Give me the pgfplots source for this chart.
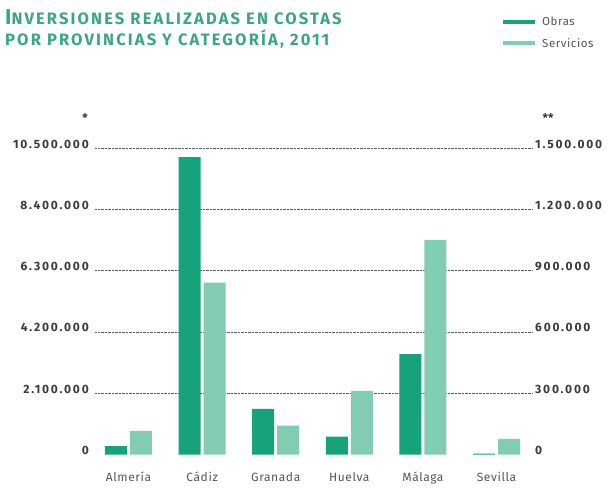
\documentclass[border=0pt]{standalone}
\usepackage{pgfplots}
\pgfplotsset{compat=1.18}
\usepackage{fontspec}
\setmainfont{Fira Sans}
\newfontfamily\titlefont{Fira Sans}[LetterSpace=13]
\newfontfamily\tickfont{Fira Sans}[LetterSpace=15]
\newfontfamily\catfont{Fira Sans}[LetterSpace=5]
\definecolor{obras}{HTML}{16A27A}
\definecolor{servicios}{HTML}{82CDB1}
\definecolor{titlecol}{HTML}{3AA685}
\definecolor{txt}{HTML}{3A3A3A}
\definecolor{cattxt}{HTML}{555555}
\pgfplotstableread{
x obras
0 290000
1 10190000
2 1560000
3 610000
4 3440000
5 30000
}\obrastable
\pgfplotstableread{
x serv
0 116000
1 841000
2 141000
3 311000
4 1050000
5 76000
}\servtable
\begin{document}
\begin{tikzpicture}
\path (0pt,0pt) rectangle (609pt,488pt);
\pgfplotsset{
  common/.style={
    at={(95pt,33.5pt)}, anchor=south west,
    scale only axis, width=437pt, height=306.5pt,
    xmin=-0.455, xmax=5.482, ymin=0,
    axis line style={draw=none},
    major tick length=0pt,
    clip=false,
  }
}
\begin{axis}[common,
  ymax=10500000,
  ytick={2100000,4200000,6300000,8400000,10500000},
  yticklabels={2.100.000,4.200.000,6.300.000,8.400.000,10.500.000},
  extra y ticks={0}, extra y tick labels={0},
  extra y tick style={grid=none},
  ymajorgrids,
  grid style={densely dotted, color=black!65, line width=0.5pt},
  yticklabel style={anchor=east, xshift=-6pt, yshift=4pt, inner sep=0pt, font=\tickfont\bfseries\fontsize{12}{14}\selectfont, text=txt},
  xtick={0,1,2,3,4,5},
  xticklabels={Almería,Cádiz,Granada,Huelva,Málaga,Sevilla},
  xticklabel style={anchor=base, yshift=-27pt, inner sep=0pt, font=\catfont\fontsize{12}{14}\selectfont, text=cattxt},
  scaled y ticks=false,
]
\addplot[ybar, bar width=22pt, bar shift=-12.5pt, fill=obras, draw=none] table[x=x, y=obras] {\obrastable};
\end{axis}
\begin{axis}[common,
  ymax=1500000,
  ytick={0,300000,600000,900000,1200000,1500000},
  yticklabels={0,300.000,600.000,900.000,1.200.000,1.500.000},
  yticklabel pos=right,
  yticklabel style={anchor=west, xshift=3pt, yshift=4pt, inner sep=0pt, font=\tickfont\bfseries\fontsize{12}{14}\selectfont, text=txt},
  xtick=\empty,
  scaled y ticks=false,
]
\addplot[ybar, bar width=22pt, bar shift=12.5pt, fill=servicios, draw=none] table[x=x, y=serv] {\servtable};
\end{axis}
% title
\node[anchor=base west, inner sep=0pt, text=titlecol] at (5pt,463pt) {\titlefont\bfseries\fontsize{21.5}{23}\selectfont I\fontsize{16.5}{18}\selectfont NVERSIONES REALIZADAS EN COSTAS};
\node[anchor=base west, inner sep=0pt, text=titlecol] at (5pt,442pt) {\titlefont\bfseries\fontsize{16.5}{18}\selectfont POR PROVINCIAS Y CATEGORÍA, 2011};
% asterisks
\node[inner sep=0pt, text=txt] at (85pt,370pt) {\bfseries\fontsize{12}{14}\selectfont *};
\node[inner sep=0pt, text=txt] at (548pt,370pt) {\bfseries\fontsize{12}{14}\selectfont **};
% legend
\fill[obras] (503pt,464pt) rectangle (535pt,468pt);
\node[anchor=west, inner sep=0pt, text=cattxt] at (542pt,467pt) {\catfont\fontsize{11.5}{13}\selectfont Obras};
\fill[servicios] (503pt,443pt) rectangle (535pt,447pt);
\node[anchor=west, inner sep=0pt, text=cattxt] at (542pt,445pt) {\catfont\fontsize{11.5}{13}\selectfont Servicios};
\end{tikzpicture}
\end{document}
